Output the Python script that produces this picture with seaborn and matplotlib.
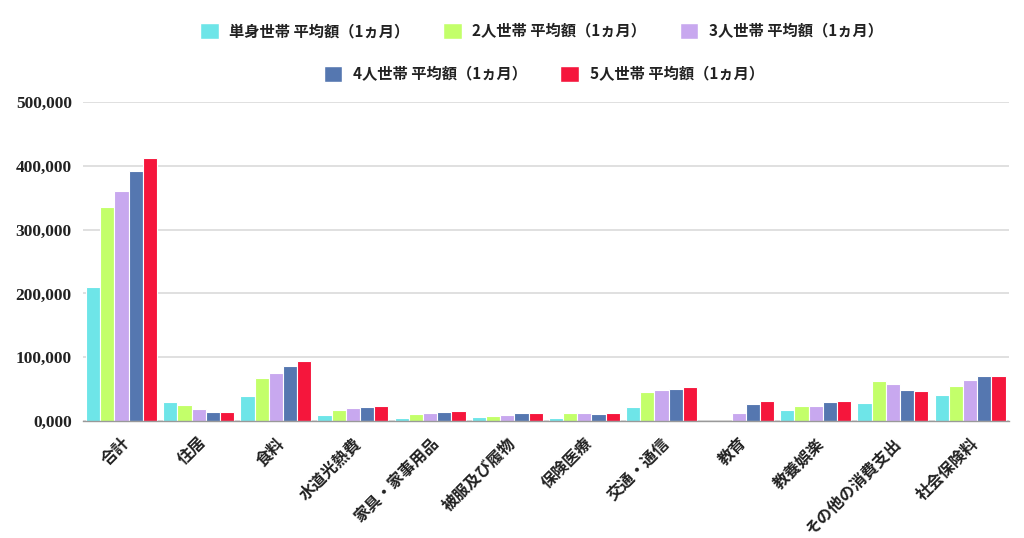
import matplotlib
matplotlib.use("Agg")
import matplotlib.pyplot as plt
import seaborn as sns
import pandas as pd
from matplotlib.patches import Patch

categories = ["合計", "住居", "食料", "水道光熱費", "家具・家事用品", "被服及び履物",
              "保険医療", "交通・通信", "教育", "教養娯楽", "その他の消費支出", "社会保険料"]
series_names = ["単身世帯 平均額（1ヵ月）", "2人世帯 平均額（1ヵ月）", "3人世帯 平均額（1ヵ月）",
                "4人世帯 平均額（1ヵ月）", "5人世帯 平均額（1ヵ月）"]
single = [210000, 30400, 39500, 9400, 4200, 5700, 4700, 22500, 0, 17000, 28700, 40800]
two = [335000, 24600, 67500, 17700, 11000, 7300, 12600, 46000, 400, 23500, 62800, 55500]
three = [360500, 18300, 75500, 20400, 12000, 8900, 12000, 48000, 12600, 23500, 58600, 64000]
four = [392000, 14700, 86000, 22000, 14000, 12000, 11500, 50000, 27000, 29800, 48000, 70700]
five = [413000, 14700, 94000, 24000, 15700, 12600, 12600, 53000, 31000, 31000, 47000, 70700]
colors = ["#6EE5E8", "#C3FF6A", "#C8A8EF", "#5577B0", "#F5163C"]
ytick_values = [0, 100000, 200000, 300000, 400000, 500000]
ytick_labels = ["0,000", "100,000", "200,000", "300,000", "400,000", "500,000"]

rows = []
for name, vals in zip(series_names, [single, two, three, four, five]):
    for c, v in zip(categories, vals):
        rows.append({"category": c, "series": name, "value": v})
df = pd.DataFrame(rows)

sns.set_theme(style="white")
cjk = ["Noto Sans CJK JP", "DejaVu Sans"]
plt.rcParams["font.family"] = cjk

fig = plt.figure(figsize=(10.24, 5.38), dpi=100)
ax = fig.add_axes([0.081, 0.2175, 0.904, 0.5925])

sns.barplot(data=df, x="category", y="value", hue="series", order=categories,
            hue_order=series_names, palette=colors, width=0.92, saturation=1,
            edgecolor="white", linewidth=0.8, ax=ax, legend=True)

ax.set_ylim(0, 500000)
ax.set_xlim(-0.5, len(categories) - 0.5)
ax.set_yticks(ytick_values)
ax.set_yticklabels(ytick_labels, fontfamily="Liberation Serif", fontweight="bold",
                   fontsize=12.5, color="#222222")
ax.tick_params(axis="y", length=0, pad=8)
ax.tick_params(axis="x", length=0, pad=10)
ax.set_xticks(range(len(categories)))
ax.set_xticklabels(categories, rotation=45, ha="right", rotation_mode="anchor",
                   fontsize=11.5, fontweight="bold", color="#222222", family=cjk)
ax.set_xlabel("")
ax.set_ylabel("")
ax.yaxis.grid(True, color="#DDDDDD", linewidth=1.3)
ax.set_axisbelow(True)
for s in ["left", "right", "top"]:
    ax.spines[s].set_visible(False)
ax.spines["bottom"].set_color("#999999")
ax.spines["bottom"].set_linewidth(1.0)

ax.get_legend().remove()
handles = [Patch(facecolor=c, edgecolor="white") for c in colors]

common = dict(frameon=False, handlelength=1.2, handleheight=1.2, handletextpad=0.7,
              columnspacing=2.2, prop={"family": cjk, "weight": "bold", "size": 11})
leg1 = fig.legend(handles[:3], series_names[:3], loc="center", ncol=3,
                  bbox_to_anchor=(0.529, 0.942), **common)
for t in leg1.get_texts():
    t.set_color("#222222")
leg2 = fig.legend(handles[3:], series_names[3:], loc="center", ncol=2,
                  bbox_to_anchor=(0.531, 0.862), **common)
for t in leg2.get_texts():
    t.set_color("#222222")

fig.savefig("out.png", dpi=100)
